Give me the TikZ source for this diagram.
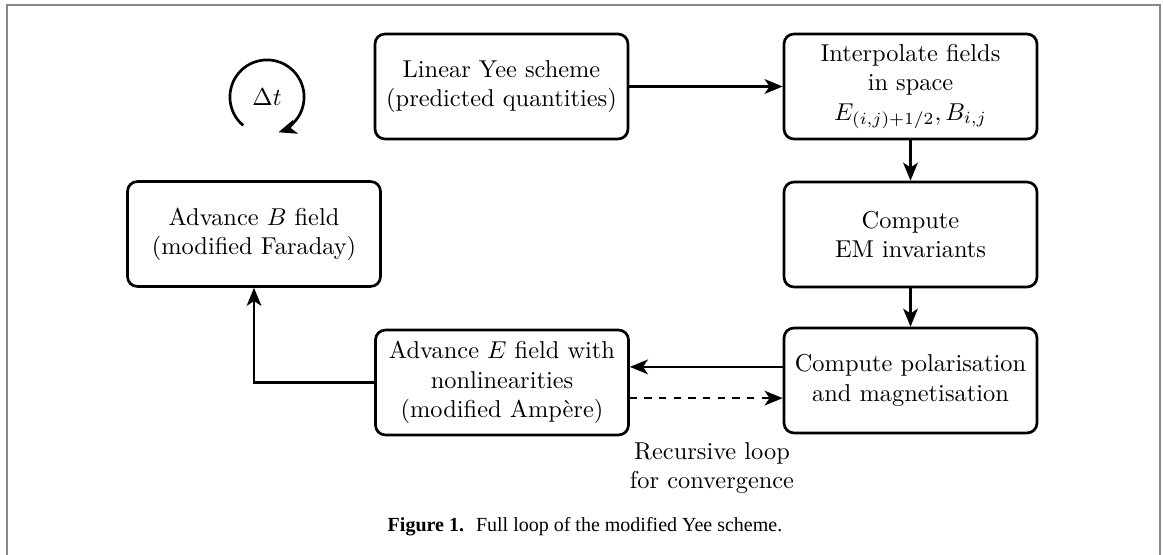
\documentclass[tikz,border=0pt]{standalone}
\usepackage{amsmath, amssymb}
\usepackage{fontspec}
\newfontfamily\capfont{Liberation Serif}
\usetikzlibrary{calc, arrows.meta}
\definecolor{framegray}{RGB}{136,136,136}
\tikzset{
  >={Stealth[length=7.4pt, width=6pt, inset=2pt]},
  blk/.style = {draw=black, line width=1.1pt, rounded corners=4pt, align=center,
    minimum width=103.7pt, minimum height=43pt, inner sep=2pt},% flow box
  arr/.style = {->, line width=1.1pt},% connector
  frm/.style = {framegray, line width=1pt}% figure frame
}

\begin{document}
\begin{tikzpicture}[x=0.41pt, y=-0.41pt]
\useasboundingbox (0,0) rectangle (1163,555);
\draw[frm] (7,555) -- (7,5) -- (1160,5) -- (1160,555);

\node[blk] (lin)    at (501.5,86.5) {Linear Yee scheme\\(predicted quantities)};
\node[blk] (interp) at (910.5,86.5) {Interpolate fields\\in space\\$E_{(i,j)+1/2}, B_{i,j}$};
\node[blk] (em)     at (910.5,234.5) {Compute\\EM invariants};
\node[blk] (pol)    at (910.5,380.5) {Compute polarisation\\and magnetisation};
\node[blk] (adve)   at (502,382.5) {Advance $E$ field with\\nonlinearities\\(modified Amp\`ere)};
\node[blk] (advb)   at (254,234) {Advance $B$ field\\(modified Faraday)};

% time step
\node (dt) at (267,97) {$\Delta t$};
\draw[arr] (dt.center) ++(230:15.2pt) arc[start angle=230, end angle=-72, radius=15.2pt];

\draw[arr] (lin) -- (interp);
\draw[arr] (interp) -- (em);
\draw[arr] (em) -- (pol);
\coordinate (eup) at ([yshift=6.4pt]adve.east);
\coordinate (edn) at ([yshift=-6.4pt]adve.east);
\draw[arr] (pol.west |- eup) -- (eup);
\draw[arr, dashed] (edn) -- (pol.west |- edn);
\draw[arr] (adve.west) -| (advb.south);

\node[align=center] (rec) at (712,468) {Recursive loop\\for convergence};
\node[font=\capfont\fontsize{8.2}{10}\selectfont] (cap) at (585,527)
  {\textbf{Figure 1.}\hspace{0.6em}Full loop of the modified Yee scheme.};
\end{tikzpicture}
\end{document}
